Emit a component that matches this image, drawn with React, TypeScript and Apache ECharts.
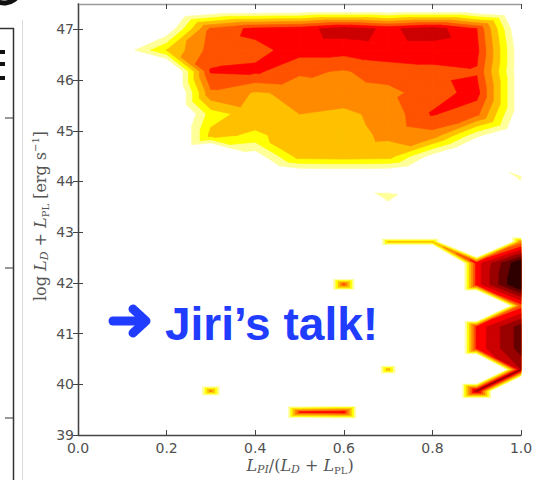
import React, { useEffect, useRef } from "react";
import * as echarts from "echarts";

// Bin centres of the luminosity-ratio / total-luminosity grid
const ratioBins = [0, 0.1, 0.2, 0.3, 0.4, 0.5, 0.6, 0.7, 0.8, 0.9, 1.0];
const logLumBins = [
  39.03, 39.45, 39.87, 40.29, 40.71, 41.13, 41.55, 41.97, 42.39, 42.81, 43.23,
  43.65, 44.07, 44.49, 44.91, 45.33, 45.75, 46.17, 46.59, 47.01, 47.43,
];

// Log source density per bin; one row per luminosity bin, bottom row first
const _ = -15; // empty bin
const density = [
  [_, _, _, _, _, _, _, _, _, _, _],
  [_, _, _, _, _, 5.0, 5.5, _, _, _, _],
  [_, _, _, 3.5, _, _, _, _, _, 7.0, _],
  [_, _, _, _, _, _, _, 2.8, _, _, 7.0],
  [_, _, _, _, _, _, _, _, _, 5.3, 8.5],
  [_, _, _, _, _, _, _, _, _, 5.3, 8.5],
  [_, _, _, _, _, _, _, _, _, _, 4.5],
  [_, _, _, _, _, _, 4.5, _, _, 5.5, 10.5],
  [_, _, _, _, _, _, _, _, _, 5.5, 10],
  [_, _, _, _, _, _, _, 2.2, 2.2, _, 3.5],
  [_, _, _, _, _, _, _, _, _, _, _],
  [_, _, _, _, _, _, _, 0.8, _, _, _],
  [_, _, _, _, -3, -2, -2, -2, -3, _, 1.0],
  [_, _, -3, -4, -0.7, 2.4, 2.5, 2.4, -0.5, -3, _],
  [_, _, -3, 2.3, 1.8, 2.5, 2.6, 3.2, 3.6, 0.3, -2],
  [_, _, -3, 1.5, 2.6, 3.0, 2.8, 3.3, 5.1, 4.3, -1],
  [_, _, -3, 3.8, 2.9, 3.2, 3.5, 3.7, 4.5, 5.4, -1],
  [_, _, -3, 5.1, 5.2, 4.2, 3.9, 4.5, 4.7, 4.9, -1],
  [_, -0.8, 2.0, 4.4, 4.7, 5.4, 5.4, 5.6, 5.6, 5.3, -1],
  [_, _, -1, 4.2, 5.3, 5.6, 6.5, 5.8, 6.5, 5.0, -1.5],
  [_, _, -3, -2, -2, -2, -2, -2, -2, -2, -3],
];

// Filled contour levels and their colours (hot_r style)
const levels = [0, 1, 2, 3, 4, 5, 6, 7, 8, 9];
const levelColors = [
  "#ffff9a", "#ffff00", "#ffc000", "#ff8a00", "#ff5200",
  "#ff0000", "#cc0000", "#990000", "#640000", "#2e0000",
];

const ratioTicks = [0, 0.2, 0.4, 0.6, 0.8, 1.0];
const lumTicks = [39, 40, 41, 42, 43, 44, 45, 46, 47];

type Pt = { x: number; y: number; f: number };

// Keep the part of a polygon where f >= level (linear interpolation on edges)
function clipAbove(poly: Pt[], level: number): Pt[] {
  const out: Pt[] = [];
  for (let k = 0; k < poly.length; k++) {
    const p = poly[k];
    const q = poly[(k + 1) % poly.length];
    const pin = p.f >= level;
    const qin = q.f >= level;
    if (pin) out.push(p);
    if (pin !== qin) {
      const t = (level - p.f) / (q.f - p.f);
      out.push({ x: p.x + t * (q.x - p.x), y: p.y + t * (q.y - p.y), f: level });
    }
  }
  return out;
}

const cells: number[][] = [];
for (let j = 0; j < logLumBins.length - 1; j++) {
  for (let i = 0; i < ratioBins.length - 1; i++) {
    cells.push([ratioBins[i], logLumBins[j], i, j]);
  }
}

function contourLayer(levelIdx: number) {
  const level = levels[levelIdx];
  const color = levelColors[levelIdx];
  return {
    type: "custom",
    coordinateSystem: "cartesian2d",
    silent: true,
    encode: { x: 0, y: 1 },
    data: cells,
    renderItem: (_params: any, api: any) => {
      const i = api.value(2);
      const j = api.value(3);
      const corner = (ci: number, cj: number): Pt => {
        const c = api.coord([ratioBins[ci], logLumBins[cj]]);
        return { x: c[0], y: c[1], f: density[cj][ci] };
      };
      const a = corner(i, j);
      const b = corner(i + 1, j);
      const c = corner(i + 1, j + 1);
      const d = corner(i, j + 1);
      if (Math.max(a.f, b.f, c.f, d.f) < level) return { type: "group", children: [] };
      const tris = a.f + c.f >= b.f + d.f ? [[a, b, c], [a, c, d]] : [[a, b, d], [b, c, d]];
      const children = tris
        .map((t) => clipAbove(t, level))
        .filter((p) => p.length >= 3)
        .map((p) => ({
          type: "polygon",
          shape: { points: p.map((v) => [v.x, v.y]) },
          style: { fill: color, stroke: color, lineWidth: 0.6 },
        }));
      return { type: "group", children };
    },
  };
}

const tickColor = "#444";
const labelFont = { fontFamily: "DejaVu Sans", fontSize: 14, color: "#505050" };
const serif = "DejaVu Serif";
const mathRich = {
  n: { fontFamily: serif, fontSize: 16, fill: "#555", lineHeight: 20 },
  i: { fontFamily: serif, fontStyle: "italic", fontSize: 16, fill: "#555", lineHeight: 20 },
  si: { fontFamily: serif, fontStyle: "italic", fontSize: 11, fill: "#555", lineHeight: 14, verticalAlign: "bottom" },
  sr: { fontFamily: serif, fontSize: 10, fill: "#555", lineHeight: 14, verticalAlign: "bottom" },
  sup: { fontFamily: serif, fontSize: 10, fill: "#555", lineHeight: 14, verticalAlign: "top" },
};
const blue = "#1f3cff";

export default function App() {
  const ref = useRef<HTMLDivElement>(null);
  useEffect(() => {
    if (!ref.current) return;
    const chart = echarts.init(ref.current, null, { renderer: "svg" });
    const frame = { show: true, lineStyle: { color: tickColor, width: 1.3 } };
    chart.setOption({
      animation: false,
      backgroundColor: "#ffffff",
      grid: { left: 78, top: 4, width: 443, height: 431 },
      xAxis: [
        {
          type: "value", min: 0, max: 1, interval: 0.2,
          axisLine: frame,
          axisTick: { inside: true, length: 5, lineStyle: { color: tickColor }, customValues: ratioTicks },
          axisLabel: { ...labelFont, margin: 6, customValues: ratioTicks, formatter: (v: number) => v.toFixed(1) },
          splitLine: { show: false },
        },
        {
          type: "value", min: 0, max: 1, interval: 0.2, position: "top",
          axisLine: { show: true, lineStyle: { color: "#9a9a9a", width: 1.3 } },
          axisTick: { inside: true, length: 5, lineStyle: { color: tickColor }, customValues: ratioTicks },
          axisLabel: { show: false },
          splitLine: { show: false },
        },
      ],
      yAxis: [
        {
          type: "value", min: 39, max: 47.5, interval: 1,
          axisLine: frame,
          axisTick: { inside: true, length: 5, lineStyle: { color: tickColor }, customValues: lumTicks },
          axisLabel: { ...labelFont, margin: 4, customValues: lumTicks },
          splitLine: { show: false },
        },
        {
          type: "value", min: 39, max: 47.5, interval: 1, position: "right",
          axisLine: frame,
          axisTick: { inside: true, length: 5, lineStyle: { color: tickColor }, customValues: lumTicks },
          axisLabel: { show: false },
          splitLine: { show: false },
        },
      ],
      series: levels.map((_l, k) => contourLayer(k)),
      graphic: [
        // x-axis title
        {
          type: "text", x: 300, y: 465,
          style: {
            text: "{i|L}{si|PI}{n|/(}{i|L}{si|D}{n| + }{i|L}{sr|PL}{n|)}",
            rich: mathRich, align: "center", verticalAlign: "middle",
          },
        },
        // y-axis title
        {
          type: "text", x: 40, y: 216, rotation: Math.PI / 2,
          style: {
            text: "{n|log }{i|L}{si|D}{n| + }{i|L}{sr|PL}{n| [erg s}{sup|−1}{n|]}",
            rich: mathRich, align: "center", verticalAlign: "middle",
          },
        },
        // annotation: heavy round-tipped arrow and text
        {
          type: "line", shape: { x1: 113, y1: 321, x2: 143, y2: 321 },
          style: { stroke: blue, lineWidth: 9, lineCap: "round" },
        },
        {
          type: "polyline", shape: { points: [[133, 309], [146, 321], [133, 333]] },
          style: { stroke: blue, lineWidth: 9, lineCap: "round", lineJoin: "round", fill: "none" },
        },
        {
          type: "text", x: 165, y: 324,
          style: { text: "Jiri’s talk!", fontFamily: "Liberation Sans", fontWeight: "bold", fontSize: 46, fill: blue, align: "left", verticalAlign: "middle" },
        },
        // neighbouring panel at the left edge
        { type: "line", shape: { x1: 13.5, y1: 28, x2: 13.5, y2: 480 }, style: { stroke: "#333", lineWidth: 1.5 } },
        { type: "line", shape: { x1: 0, y1: 28.5, x2: 14, y2: 28.5 }, style: { stroke: "#333", lineWidth: 1.5 } },
        { type: "line", shape: { x1: 5, y1: 118, x2: 13, y2: 118 }, style: { stroke: "#555", lineWidth: 1.2 } },
        { type: "line", shape: { x1: 5, y1: 268, x2: 13, y2: 268 }, style: { stroke: "#555", lineWidth: 1.2 } },
        { type: "line", shape: { x1: 5, y1: 418, x2: 13, y2: 418 }, style: { stroke: "#555", lineWidth: 1.2 } },
        { type: "line", shape: { x1: 22.5, y1: 20, x2: 22.5, y2: 480 }, style: { stroke: "#dadada", lineWidth: 1 } },
        { type: "rect", shape: { x: 0, y: 50, width: 5, height: 4 }, style: { fill: "#111" } },
        { type: "rect", shape: { x: 0, y: 62, width: 5, height: 4 }, style: { fill: "#111" } },
        { type: "rect", shape: { x: 0, y: 76, width: 5, height: 4 }, style: { fill: "#111" } },
        { type: "arc", shape: { cx: 4, cy: -14, r: 17, startAngle: 0.35, endAngle: 2.6 }, style: { stroke: "#111", lineWidth: 5, fill: "none" } },
      ],
    });
    return () => chart.dispose();
  }, []);
  return <div ref={ref} style={{ position: "absolute", left: 0, top: 0, width: 542, height: 480 }} />;
}
